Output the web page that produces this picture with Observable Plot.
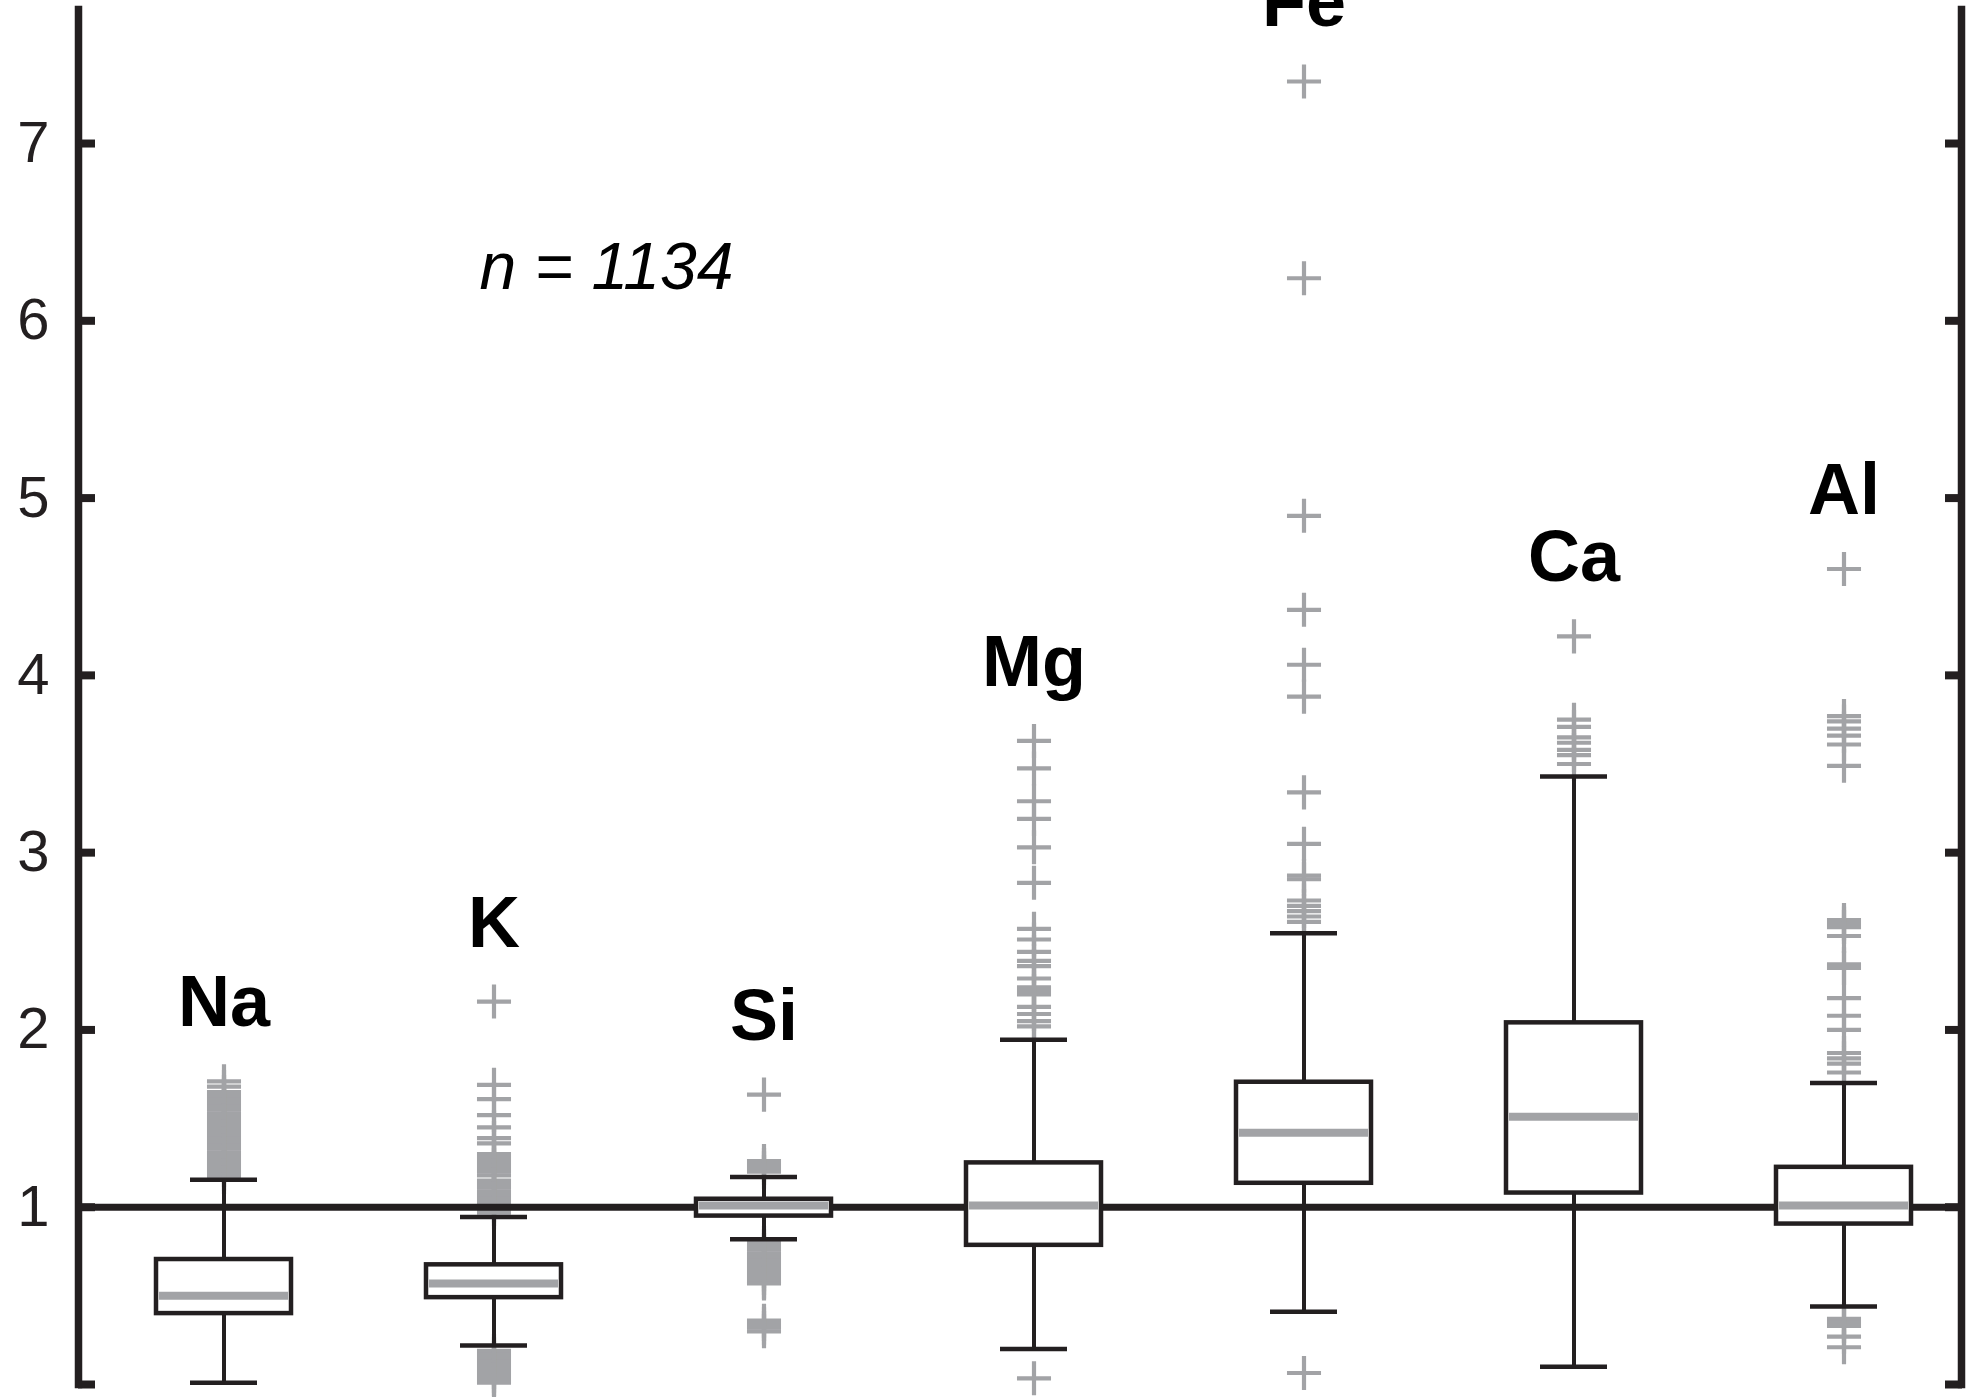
<!DOCTYPE html>
<html>
<head>
<meta charset="utf-8">
<script src="https://cdn.jsdelivr.net/npm/d3@7"></script>
<script src="https://cdn.jsdelivr.net/npm/@observablehq/plot@0.6"></script>
<style>
  html, body { margin: 0; padding: 0; background: #fff; overflow: hidden; }
  #chart svg { display: block; }
</style>
</head>
<body>
<div id="chart"></div>
<script>
// ---- data ----
const categories = ["Na", "K", "Si", "Mg", "Fe", "Ca", "Al"];
const q1          = [0.40, 0.49, 0.95, 0.785, 1.135, 1.08, 0.905];
const medians     = [0.50, 0.57, 1.01, 1.01, 1.42, 1.51, 1.01];
const q3          = [0.705, 0.675, 1.045, 1.25, 1.705, 2.04, 1.225];
const whiskerLow  = [0.01, 0.22, 0.82, 0.20, 0.41, 0.10, 0.44];
const whiskerHigh = [1.155, 0.945, 1.17, 1.945, 2.545, 3.43, 1.70];

const naOutliers = [1.17, 1.19, 1.21, 1.23, 1.25, 1.27, 1.29, 1.31, 1.33, 1.35, 1.37, 1.39, 1.41, 1.43,
  1.45, 1.47, 1.49, 1.51, 1.53, 1.55, 1.57, 1.59, 1.61, 1.63, 1.65, 1.68, 1.71];
const kOutliers = [2.16, 1.69, 1.61, 1.52, 1.45, 1.39, 1.36, 1.30, 1.28, 1.26, 1.24, 1.22, 1.20, 1.18,
  1.15, 1.13, 1.11, 1.09, 1.07, 1.05, 1.03, 1.01, 0.99, 0.97,
  0.19, 0.17, 0.15, 0.13, 0.11, 0.09, 0.07, 0.05, 0.03, 0.01];
const siOutliers = [1.635, 1.26, 1.24, 1.22, 1.20,
  0.80, 0.78, 0.76, 0.74, 0.72, 0.70, 0.68, 0.66, 0.64, 0.62, 0.60, 0.58, 0.57,
  0.36, 0.34, 0.32, 0.30];
const mgOutliers = [3.63, 3.475, 3.29, 3.19, 3.03, 2.83, 2.57, 2.51, 2.44, 2.39, 2.36, 2.29,
  2.24, 2.22, 2.20, 2.13, 2.09, 2.05, 2.02, 0.035];
const feOutliers = [7.35, 6.24, 4.90, 4.37, 4.06, 3.88, 3.34, 3.05, 2.87, 2.85,
  2.73, 2.70, 2.67, 2.64, 2.61, 0.065];
const caOutliers = [4.22, 3.75, 3.71, 3.65, 3.62, 3.58, 3.55, 3.50];
const alOutliers = [4.60, 3.77, 3.74, 3.70, 3.66, 3.61, 3.49, 2.62, 2.60, 2.58, 2.53, 2.37, 2.35,
  2.18, 2.08, 2.00, 1.87, 1.84, 1.81, 1.76, 0.37, 0.35, 0.33, 0.27, 0.21];
const yTicks = [0, 1, 2, 3, 4, 5, 6, 7];
const sampleLabel = "n = 1134";

// ---- build tables ----
const outlierLists = [naOutliers, kOutliers, siOutliers, mgOutliers, feOutliers, caOutliers, alOutliers];
const outliers = outlierLists.flatMap((list, i) => list.map(v => ({el: categories[i], v})));
const stats = categories.map((el, i) => ({
  el, q1: q1[i], med: medians[i], q3: q3[i], lo: whiskerLow[i], hi: whiskerHigh[i],
  top: Math.max(whiskerHigh[i], ...outlierLists[i])
}));

const dark = "#231f20";
const grey = "#a2a3a6";
const W = 1986, H = 1397;

const chart = Plot.plot({
  width: W,
  height: H,
  marginLeft: 78,
  marginRight: 25,
  marginTop: 9,
  marginBottom: 13,
  style: {background: "white"},
  x: {type: "band", domain: categories, range: [86.7, 1980.3], paddingInner: 0.5, paddingOuter: 0.25, axis: null},
  y: {domain: [0, 7.756], axis: null},
  marks: [
    Plot.dot(outliers, {x: "el", y: "v", symbol: "plus", r: 11, stroke: grey, fill: "none", strokeWidth: 4.2}),
    Plot.ruleY([1], {stroke: dark, strokeWidth: 7}),
    Plot.ruleX(stats, {x: "el", y1: "lo", y2: "q1", stroke: dark, strokeWidth: 4}),
    Plot.ruleX(stats, {x: "el", y1: "q3", y2: "hi", stroke: dark, strokeWidth: 4}),
    Plot.tickY(stats, {x: "el", y: "lo", stroke: dark, strokeWidth: 4.5, insetLeft: 34, insetRight: 34}),
    Plot.tickY(stats, {x: "el", y: "hi", stroke: dark, strokeWidth: 4.5, insetLeft: 34, insetRight: 34}),
    Plot.barY(stats, {x: "el", y1: "q1", y2: "q3", fill: "white", stroke: dark, strokeWidth: 4.5}),
    Plot.tickY(stats, {x: "el", y: "med", stroke: grey, strokeWidth: 8, insetLeft: 3, insetRight: 3}),
    Plot.frame({anchor: "left", stroke: dark, strokeWidth: 7.5}),
    Plot.frame({anchor: "right", stroke: dark, strokeWidth: 7.5}),
    Plot.axisY({anchor: "left", ticks: yTicks, tickSize: -17, tickPadding: 46, strokeWidth: 8, color: dark,
      fontSize: 58, fontFamily: "'Liberation Sans Narrow', 'Liberation Sans', Arial, sans-serif",
      tickFormat: d => d === 0 ? "" : String(d), label: null}),
    Plot.axisY({anchor: "right", ticks: yTicks, tickSize: -17, strokeWidth: 8, color: dark,
      tickFormat: () => "", label: null}),
    Plot.text(stats, {x: "el", y: "top", text: "el", lineAnchor: "bottom", dy: -55,
      fontSize: 72, fontWeight: "bold", fontFamily: "'Liberation Sans', Arial, sans-serif", fill: "black"}),
    Plot.text([sampleLabel], {frameAnchor: "top-left", text: d => d, dx: 401, dy: 258, textAnchor: "start",
      lineAnchor: "middle", fontSize: 66, fontStyle: "italic",
      fontFamily: "'Liberation Sans Narrow', 'Liberation Sans', Arial, sans-serif", fill: "black"})
  ]
});
document.getElementById("chart").appendChild(chart);
</script>
</body>
</html>
